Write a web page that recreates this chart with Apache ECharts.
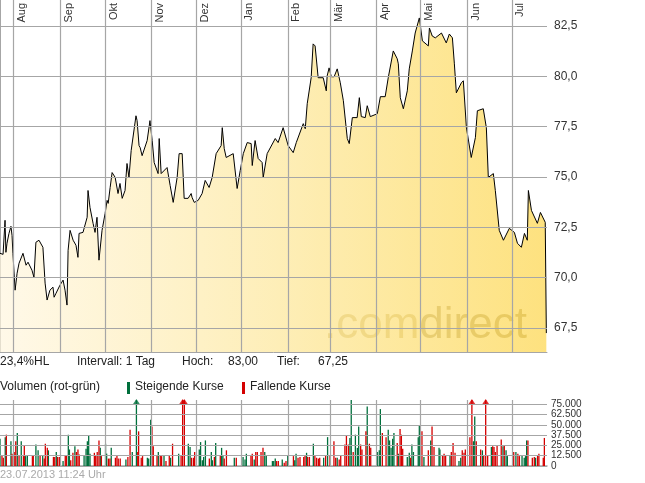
<!DOCTYPE html>
<html>
<head>
<meta charset="utf-8">
<script src="https://cdn.jsdelivr.net/npm/echarts@6/dist/echarts.min.js"></script>
<style>
  html, body { margin: 0; padding: 0; background: #fff; }
  #chart { width: 645px; height: 483px; }
</style>
</head>
<body>
<div id="chart"></div>
<script>
// trading day index (0 = start of August) and closing price
const priceDays = [0,1.4,2.3,2.7,3.2,4.1,5.0,5.5,5.9,6.9,7.8,8.7,10.5,11.9,12.8,14.6,15.5,16.4,17.8,19.6,20.6,21.5,22.8,24.2,24.7,25.6,27.4,28.8,29.7,30.6,31.1,32.0,33.4,34.7,35.6,36.1,37.9,39.8,40.2,41.1,42.5,43.4,44.3,45.2,46.6,48.0,48.9,49.4,50.3,51.2,52.6,53.9,54.8,55.8,57.1,58.0,58.9,59.9,62.1,62.6,63.5,64.0,64.9,67.2,68.5,69.5,70.4,72.2,72.7,73.6,76.3,77.7,79.1,80.9,81.8,83.2,84.1,85.9,87.3,87.7,88.7,90.5,92.3,93.7,95.5,96.9,97.8,98.7,101.0,101.5,102.4,103.3,106.5,108.3,109.7,111.1,112.9,114.7,115.2,116.5,117.9,119.7,120.2,122.0,125.7,127.0,129.3,130.2,131.6,133.9,135.3,136.2,138.5,139.4,140.3,142.1,143.0,143.9,145.3,147.6,149.0,149.4,150.3,151.3,152.6,154.0,155.4,156.8,158.6,159.5,160.9,163.1,164.1,165.0,166.8,167.7,169.1,172.3,173.7,175.9,177.3,179.6,181.4,181.9,182.8,184.2,186.0,186.9,188.3,189.6,191.5,192.9,195.6,196.1,197.4,198.8,201.6,203.8,205.2,206.6,207.5,208.4,210.7,211.6,213.0,215.2,217.1,218.0,220.7,222.1,223.0,225.3,226.2,228.0,229.9,232.6,234.9,236.3,238.1,239.5,240.8,241.3,242.7,245.4,246.8,249.0,249.5];
const prices = [71.21,71.16,72.85,71.26,71.71,72.20,72.55,72.10,71.21,69.38,70.22,70.72,71.21,70.62,70.77,70.37,70.02,71.76,71.86,71.51,69.73,68.89,69.38,69.53,69.03,69.23,69.63,69.88,69.38,68.64,71.36,72.35,71.86,71.61,71.01,72.20,72.25,73.00,74.33,73.49,72.70,72.25,73.00,70.87,72.35,73.19,73.84,73.69,74.48,75.22,74.98,74.18,74.68,73.94,74.33,75.67,74.98,76.31,78.04,77.80,76.56,76.46,76.06,76.81,77.80,76.81,75.72,75.17,76.91,75.17,75.47,74.58,73.74,74.98,76.16,76.16,73.94,73.94,74.18,73.99,73.74,73.84,74.18,74.83,74.48,74.98,74.98,76.16,76.56,77.45,76.41,75.97,76.16,74.43,75.32,76.16,76.71,76.66,75.57,76.81,75.92,75.72,74.98,76.16,76.91,76.71,77.45,77.40,76.56,76.21,76.71,76.66,77.65,77.40,78.64,79.93,81.61,81.51,79.93,79.93,79.28,80.02,80.42,79.98,79.98,80.37,79.68,78.79,76.91,76.66,77.95,77.95,78.94,78.00,77.95,78.54,78.00,78.14,78.99,78.99,79.93,81.26,80.87,80.62,78.94,78.39,79.28,80.37,81.26,82.15,82.90,81.76,81.51,82.40,82.00,81.91,82.15,81.66,82.10,81.91,80.62,79.18,79.68,79.78,77.45,75.97,76.96,78.29,78.39,77.45,74.98,75.17,74.33,72.35,71.86,72.45,72.25,71.71,71.51,72.20,71.86,74.33,73.34,72.70,73.24,72.75,67.25];

// volume bars: day index, volume (thousands), up (g) / down (r)
const volDays = [0,0.9,1.5,2.4,2.9,5.0,5.5,6.5,7.2,7.9,8.7,9.7,10.7,11.1,11.7,12.5,14.8,15.2,16.4,17.4,18.3,19.5,20.2,20.7,21.6,22.1,24.4,25.0,25.7,26.3,27.1,28.8,29.8,30.3,31.2,31.7,32.3,33.3,34.2,34.9,35.6,36.2,38.4,39.3,39.9,40.5,41.1,43.1,43.7,44.4,45.2,45.8,46.3,48.2,48.7,49.5,50.2,50.8,52.7,53.4,54.0,54.9,57.5,58.4,59.4,60.4,62.3,62.9,63.3,64.5,65.1,67.3,67.9,68.8,69.4,70.0,71.7,72.3,73.2,73.8,74.9,75.8,77.3,77.9,78.8,81.6,82.7,83.4,84.2,86.0,86.8,87.4,88.3,88.9,91.0,91.6,92.4,93.0,93.8,95.6,96.5,97.0,97.9,98.5,100.6,101.2,101.8,102.4,103.4,107.0,107.9,111.0,111.9,112.5,114.6,115.2,116.1,116.8,117.5,119.2,120.1,120.9,121.6,124.4,125.0,125.7,126.3,127.1,128.9,129.8,130.6,131.4,134.0,134.6,135.2,136.1,137.0,138.7,139.3,140.0,140.5,141.3,143.1,143.8,144.6,145.4,146.0,147.8,148.7,149.6,150.7,152.5,153.3,154.0,154.9,155.6,157.5,158.2,159.1,159.8,160.4,161.3,162.3,163.2,163.8,164.7,165.3,167.1,167.7,168.7,169.3,172.3,173.2,173.7,174.6,176.3,177.3,177.9,178.6,179.3,179.9,181.4,181.9,182.7,183.3,183.9,186.0,186.9,187.5,188.1,188.8,191.0,191.5,192.7,193.6,195.6,196.7,197.3,198.2,200.5,200.9,202.1,202.8,203.5,205.5,206.1,206.9,207.8,209.6,210.4,211.1,211.9,212.5,214.6,215.5,216.2,216.8,217.5,219.5,220.3,220.9,221.8,222.7,224.4,225.0,225.6,226.2,227.0,228.9,229.7,230.3,231.1,231.7,234.1,234.6,235.6,236.5,237.2,238.4,239.4,240.0,240.5,241.1,243.1,244.0,244.6,245.5,246.1,248.1,248.6];
const volumes = [33,13,10,35,38,30,15,17,30,40,12,30,12,25,12,13,12,12,26,19,12,13,9,27,22,19,11,11,17,11,11,6,12,13,38,20,7,16,24,17,20,14,13,21,30,37,15,16,12,17,31,22,12,27,15,9,9,22,10,12,9,9,8,11,44,17,95,17,42,10,12,10,9,56,48,24,13,17,12,12,12,6,12,10,27,15,13,95,95,27,23,10,10,17,20,29,7,11,31,9,17,7,11,28,13,22,12,9,19,10,10,11,8,15,13,15,8,17,17,17,22,17,12,6,6,9,6,6,8,4,6,13,12,7,15,10,11,11,12,16,11,11,27,13,10,9,10,10,13,35,12,30,10,10,8,12,26,37,26,34,80,17,38,22,48,26,20,42,72,27,22,17,19,69,40,35,44,31,22,33,40,28,15,45,38,21,11,16,10,26,17,35,49,42,11,19,31,48,23,22,20,13,15,13,13,17,28,16,6,10,19,16,20,35,95,30,60,30,20,19,13,95,13,23,24,23,17,25,32,24,25,19,12,8,17,17,15,12,13,10,12,31,31,10,11,10,13,15,10,34];
const volDir = ("grrgrgrrrg rgrrggrrgg rgrrrgrrgr rgrrggrrgr rrgggggrrr rgrggrrgrr rrgrrggrrr rgggrrrgrr grrgrg " +
  "rrrggrrrgg gggrggrgrg grrgrgggrr grrrrggggg rrgrrgrggr rrrgrrgrrr rgrgrrrgrr rrrggrggg " +
  "rrrgrrgggr rgggggrgrr rggrggggrg rgrrggrrrg rrrggrrrrr ggrrgrrrgr rrrrgrggrr grrggggrrr grrrr").replace(/ /g, "");

const monthNames = ["Aug","Sep","Okt","Nov","Dez","Jan","Feb","Mär","Apr","Mai","Jun","Jul"];
const monthStarts = [6.2,27.4,48.0,69.0,89.5,110.0,131.5,150.7,171.7,191.8,213.3,233.8];
const priceTicks = [67.5,70,72.5,75,77.5,80,82.5];
const volTicks = [0,12500,25000,37500,50000,62500,75000];
const volMax = 80000;

const GRID = "#a6a6a6";
const UP = "#006f3c", DOWN = "#d40000";
const fmtDe = (v, d) => v.toFixed(d).replace(".", ",").replace(/\B(?=(\d{3})+(?!\d))/g, ".");

const priceData = priceDays.map((d, i) => [d, prices[i]]);
const upData = [], downData = [], upArrows = [], downArrows = [];
volDays.forEach((d, i) => {
  const v = volumes[i] * 1000;
  const up = volDir[i] === "g";
  (up ? upData : downData).push([d, Math.min(v, volMax)]);
  if (v > volMax) (up ? upArrows : downArrows).push([d, volMax - 2500]);
});

const monthLines = (withLabels) => ({
  silent: true, symbol: "none",
  lineStyle: { color: GRID, type: "solid", width: 1.2 },
  label: withLabels ? {
    show: true, position: "insideEndBottom", formatter: (p) => monthNames[monthStarts.indexOf(p.value)],
    color: "#333", fontSize: 11, fontFamily: "Liberation Sans", distance: 3
  } : { show: false },
  data: monthStarts.map((m) => ({ xAxis: m }))
});

const chart = echarts.init(document.getElementById("chart"), null, { renderer: "canvas" });
chart.setOption({
  animation: false,
  backgroundColor: "#fff",
  textStyle: { fontFamily: "Liberation Sans" },
  grid: [
    { left: 0, right: 98, top: 0, bottom: 131 },
    { left: 0, right: 98, top: 400, bottom: 17 }
  ],
  xAxis: [
    { gridIndex: 0, type: "value", min: 0, max: 249.8, axisLine: { show: true, lineStyle: { color: GRID } },
      axisTick: { show: false }, axisLabel: { show: false }, splitLine: { show: false } },
    { gridIndex: 1, type: "value", min: 0, max: 249.8, axisLine: { show: true, lineStyle: { color: GRID, width: 1.5 } },
      axisTick: { show: false }, axisLabel: { show: false }, splitLine: { show: false } }
  ],
  yAxis: [
    { gridIndex: 0, type: "value", position: "right", min: 66.31, max: 83.79,
      axisLine: { show: true, lineStyle: { color: GRID } }, axisTick: { show: false },
      axisLabel: { show: false }, splitLine: { show: false } },
    { gridIndex: 1, type: "value", position: "right", min: 0, max: volMax,
      axisLine: { show: false }, axisTick: { show: false },
      axisLabel: { show: false }, splitLine: { show: false } }
  ],
  series: [
    {
      type: "line", xAxisIndex: 0, yAxisIndex: 0, data: priceData, symbol: "none",
      lineStyle: { color: "#000", width: 1 },
      areaStyle: { origin: "start", color: new echarts.graphic.LinearGradient(0, 0, 1, 0, [
        { offset: 0, color: "#fff6df" }, { offset: 0.5, color: "#fde79a" }, { offset: 1, color: "#fdd548" }
      ]) },
      markLine: {
        silent: true, symbol: "none",
        lineStyle: { color: GRID, type: "solid", width: 1.2 },
        label: { show: true, position: "end", formatter: (p) => fmtDe(p.value, 1), color: "#333", fontSize: 12, distance: 7 },
        data: priceTicks.map((t) => ({ yAxis: t }))
      },
      z: 3
    },
    { type: "line", xAxisIndex: 0, yAxisIndex: 0, data: [], markLine: monthLines(true), z: 1 },
    {
      type: "bar", xAxisIndex: 1, yAxisIndex: 1, data: upData, barWidth: 1.3, itemStyle: { color: UP },
      barGap: "-100%",
      markLine: {
        silent: true, symbol: "none",
        lineStyle: { color: GRID, type: "solid", width: 1.2 },
        label: { show: true, position: "end", formatter: (p) => fmtDe(p.value, 0), color: "#333", fontSize: 10, distance: 4 },
        data: volTicks.map((t) => ({ yAxis: t }))
      }
    },
    { type: "bar", xAxisIndex: 1, yAxisIndex: 1, data: downData, barWidth: 1.3, itemStyle: { color: DOWN } },
    { type: "line", xAxisIndex: 1, yAxisIndex: 1, data: [], markLine: monthLines(false) },
    { type: "scatter", xAxisIndex: 1, yAxisIndex: 1, data: upArrows, symbol: "triangle", symbolSize: [8, 6], itemStyle: { color: UP } },
    { type: "scatter", xAxisIndex: 1, yAxisIndex: 1, data: downArrows, symbol: "triangle", symbolSize: [8, 6], itemStyle: { color: DOWN } }
  ],
  graphic: [
    { type: "text", left: 324, top: 304, z: 2, style: {
      text: "{a|.com}{b|direct}", rich: {
        a: { fontSize: 44, fontFamily: "Liberation Sans", fill: "rgba(180,150,60,0.55)" },
        b: { fontSize: 44, fontFamily: "Liberation Sans", fill: "rgba(140,115,45,0.6)" }
      } } },
    { type: "text", left: 0, top: 356, style: { text: "23,4%HL", fontSize: 12, fill: "#222", fontFamily: "Liberation Sans" } },
    { type: "text", left: 77, top: 356, style: { text: "Intervall: 1 Tag", fontSize: 12, fill: "#222", fontFamily: "Liberation Sans" } },
    { type: "text", left: 182, top: 356, style: { text: "Hoch:", fontSize: 12, fill: "#222", fontFamily: "Liberation Sans" } },
    { type: "text", left: 228, top: 356, style: { text: "83,00", fontSize: 12, fill: "#222", fontFamily: "Liberation Sans" } },
    { type: "text", left: 277, top: 356, style: { text: "Tief:", fontSize: 12, fill: "#222", fontFamily: "Liberation Sans" } },
    { type: "text", left: 318, top: 356, style: { text: "67,25", fontSize: 12, fill: "#222", fontFamily: "Liberation Sans" } },
    { type: "text", left: 0, top: 381, style: { text: "Volumen (rot-grün)", fontSize: 12, fill: "#222", fontFamily: "Liberation Sans" } },
    { type: "rect", left: 127, top: 382, shape: { width: 3, height: 12 }, style: { fill: UP } },
    { type: "text", left: 135, top: 381, style: { text: "Steigende Kurse", fontSize: 12, fill: "#222", fontFamily: "Liberation Sans" } },
    { type: "rect", left: 242, top: 382, shape: { width: 3, height: 12 }, style: { fill: DOWN } },
    { type: "text", left: 250, top: 381, style: { text: "Fallende Kurse", fontSize: 12, fill: "#222", fontFamily: "Liberation Sans" } },
    { type: "text", left: 0, top: 469, style: { text: "23.07.2013 11:24 Uhr", fontSize: 11, fill: "#aaa", fontFamily: "Liberation Sans" } }
  ]
});
</script>
</body>
</html>
